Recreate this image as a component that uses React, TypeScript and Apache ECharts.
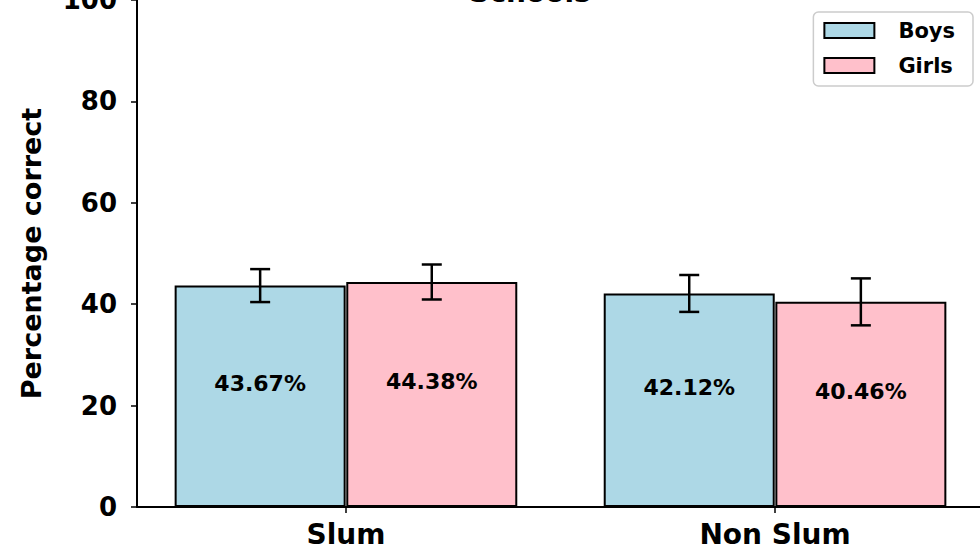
import React, { useEffect, useRef } from "react";
import * as echarts from "echarts";

const categories = ["Slum", "Non Slum"];
const groups = ["Boys", "Girls"];
const boysValues = [43.67, 42.12];
const girlsValues = [44.38, 40.46];
const boysErrors = [3.25, 3.64];
const girlsErrors = [3.45, 4.63];
const colors = ["#ADD8E6", "#FFC0CB"];
const barOffset = 0.2;

const FONT = "DejaVu Sans";

export default function App() {
  const ref = useRef<HTMLDivElement>(null);
  useEffect(() => {
    if (!ref.current) return;
    const chart = echarts.init(ref.current, undefined, { renderer: "svg" });
    const barData = (vals: number[], off: number) =>
      vals.map((v, i) => [i + off, v]);
    const errData = (vals: number[], errs: number[], off: number) =>
      vals.map((v, i) => [i + off, v - errs[i], v + errs[i]]);

    const barSeries = (name: string, vals: number[], off: number, color: string) => ({
      name,
      type: "bar",
      barWidth: 171,
      barGap: "-100%",
      data: barData(vals, off),
      itemStyle: { color, borderColor: "#000", borderWidth: 2 },
      label: {
        show: true,
        position: "inside",
        offset: [0, -13],
        formatter: (p: any) => p.value[1].toFixed(2) + "%",
        fontFamily: FONT,
        fontWeight: "bold",
        fontSize: 22,
        color: "#000",
      },
      z: 2,
    });

    const errSeries = (vals: number[], errs: number[], off: number) => ({
      type: "custom",
      data: errData(vals, errs, off),
      renderItem: (params: any, api: any) => {
        const x = api.value(0);
        const lo = api.coord([x, api.value(1)]);
        const hi = api.coord([x, api.value(2)]);
        const cap = 10;
        const style = { stroke: "#000", lineWidth: 2.5 };
        return {
          type: "group",
          children: [
            { type: "line", shape: { x1: lo[0], y1: lo[1], x2: hi[0], y2: hi[1] }, style },
            { type: "line", shape: { x1: lo[0] - cap, y1: lo[1], x2: lo[0] + cap, y2: lo[1] }, style },
            { type: "line", shape: { x1: hi[0] - cap, y1: hi[1], x2: hi[0] + cap, y2: hi[1] }, style },
          ],
        };
      },
      z: 5,
      silent: true,
    });

    chart.setOption({
      animation: false,
      backgroundColor: "#fff",
      grid: {
        left: 137,
        top: 0,
        width: 847,
        height: 507,
        containLabel: false,
        outerBoundsMode: "none",
      },
      graphic: [
        {
          type: "text",
          x: 530,
          y: -8,
          style: {
            text: "Schools",
            fontFamily: FONT,
            fontWeight: "bold",
            fontSize: 28,
            fill: "#000",
            align: "center",
            verticalAlign: "middle",
          },
        },
      ],
      legend: {
        data: groups,
        orient: "vertical",
        right: 7,
        top: 12,
        itemWidth: 50,
        itemHeight: 15,
        itemGap: 12,
        icon: "rect",
        padding: [7, 18, 9, 10],
        borderColor: "#cccccc",
        borderWidth: 1.5,
        borderRadius: 5,
        backgroundColor: "#fff",
        itemStyle: { borderColor: "#000", borderWidth: 2 },
        textStyle: {
          fontFamily: FONT,
          fontWeight: "bold",
          fontSize: 21,
          lineHeight: 23,
          color: "#000",
          padding: [0, 0, 0, 19],
        },
      },
      xAxis: {
        type: "value",
        min: -0.487,
        max: 1.487,
        splitLine: { show: false },
        axisLine: { show: true, onZero: false, lineStyle: { color: "#000", width: 2 } },
        axisTick: {
          show: true,
          customValues: [0, 1],
          length: 6,
          lineStyle: { color: "#000", width: 1.5 },
        },
        axisLabel: {
          customValues: [0, 1],
          formatter: (v: number) => categories[Math.round(v)] ?? "",
          fontFamily: FONT,
          fontWeight: "bold",
          fontSize: 28,
          color: "#000",
          margin: 13,
        },
      },
      yAxis: {
        type: "value",
        min: 0,
        max: 100,
        interval: 20,
        name: "Percentage correct",
        nameLocation: "middle",
        nameGap: 92,
        nameTextStyle: { fontFamily: FONT, fontWeight: "bold", fontSize: 27, color: "#000" },
        splitLine: { show: false },
        axisLine: { show: true, onZero: false, lineStyle: { color: "#000", width: 2 } },
        axisTick: { show: true, length: 6, lineStyle: { color: "#000", width: 1.5 } },
        axisLabel: {
          fontFamily: FONT,
          fontWeight: "bold",
          fontSize: 26,
          color: "#000",
          margin: 20,
        },
      },
      series: [
        barSeries(groups[0], boysValues, -barOffset, colors[0]),
        barSeries(groups[1], girlsValues, barOffset, colors[1]),
        errSeries(boysValues, boysErrors, -barOffset),
        errSeries(girlsValues, girlsErrors, barOffset),
      ],
    });
    return () => chart.dispose();
  }, []);
  return (
    <div
      ref={ref}
      style={{ position: "fixed", left: 0, top: 0, width: 980, height: 552 }}
    />
  );
}
